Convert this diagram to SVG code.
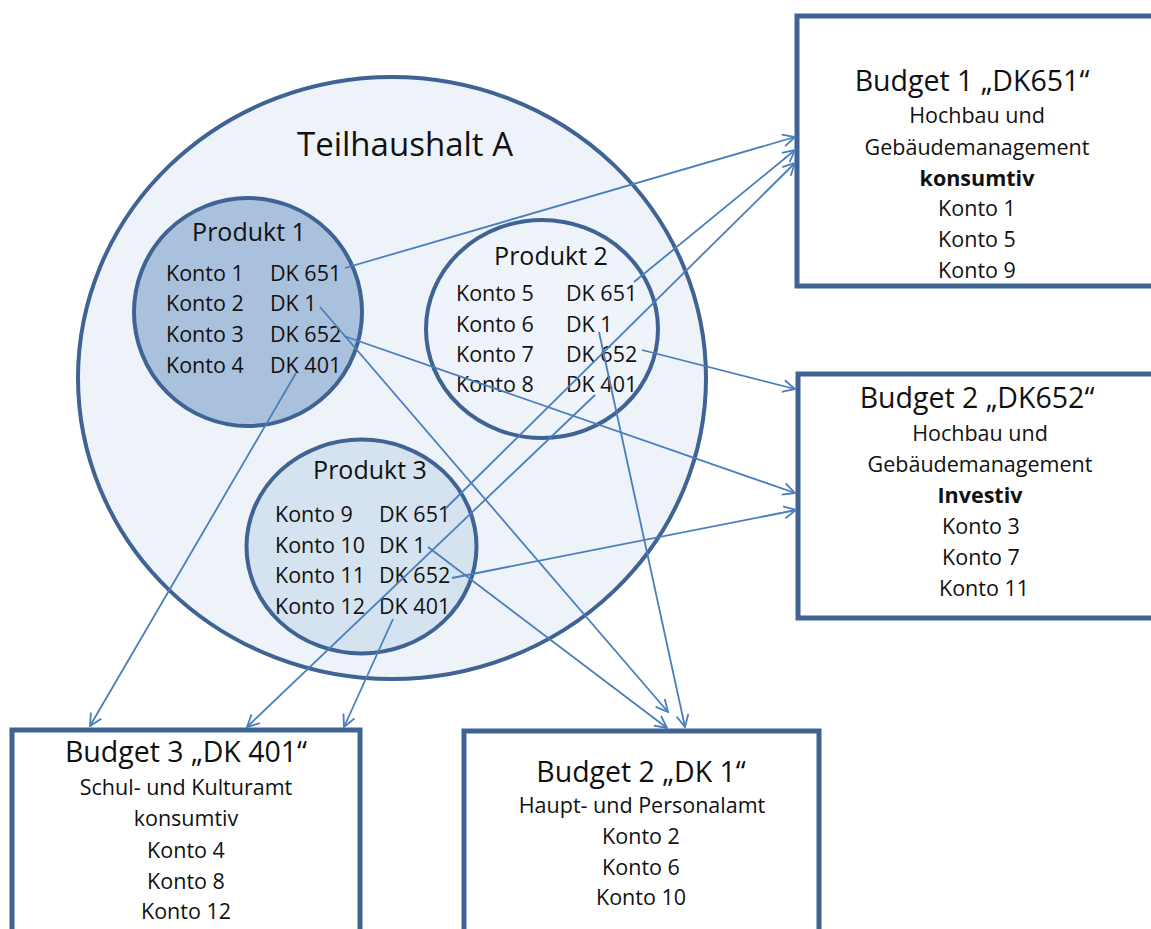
<svg xmlns="http://www.w3.org/2000/svg" width="1151" height="929" viewBox="0 0 1151 929">
<defs>
<style>
.t{font-family:"Open Sans","Liberation Sans",sans-serif;fill:#111;}
.big{font-size:33px;}
.prod{font-size:25px;}
.row{font-size:21.5px;}
.title{font-size:28.5px;text-anchor:middle;}
.sub{font-size:21.5px;text-anchor:middle;}
.b{font-weight:bold;}
.box{fill:#fff;stroke:#3f6393;stroke-width:5;}
.circ{stroke:#3f6393;stroke-width:4;}
.conn line{stroke:#4a7ebb;stroke-width:1.8;fill:none;marker-end:url(#arr);}
</style>
<marker id="arr" viewBox="0 0 14 14" refX="13" refY="7" markerWidth="14" markerHeight="14" markerUnits="userSpaceOnUse" orient="auto">
<path d="M1,1 L13,7 L1,13" fill="none" stroke="#4a7ebb" stroke-width="1.8"/>
</marker>
</defs>
<rect width="1151" height="929" fill="#fff"/>

<g id="teilhaushalt">
<ellipse class="circ" cx="392" cy="378" rx="314" ry="301" fill="#eef3f9"/>
<text class="t big" x="405" y="156" text-anchor="middle">Teilhaushalt A</text>
</g>

<g id="produkt1">
<ellipse class="circ" cx="248" cy="312" rx="114" ry="114" fill="#aac1de"/>
<text class="t prod" x="249" y="241" text-anchor="middle">Produkt 1</text>
<text class="t row" x="166" y="281">Konto 1</text><text class="t row" x="270" y="281">DK 651</text>
<text class="t row" x="166" y="311">Konto 2</text><text class="t row" x="270" y="311">DK 1</text>
<text class="t row" x="166" y="342">Konto 3</text><text class="t row" x="270" y="342">DK 652</text>
<text class="t row" x="166" y="373">Konto 4</text><text class="t row" x="270" y="373">DK 401</text>
</g>

<g id="produkt2">
<ellipse class="circ" cx="542" cy="329" rx="116" ry="109" fill="#eff4fa"/>
<text class="t prod" x="551" y="265" text-anchor="middle">Produkt 2</text>
<text class="t row" x="456" y="301">Konto 5</text><text class="t row" x="566" y="301">DK 651</text>
<text class="t row" x="456" y="332">Konto 6</text><text class="t row" x="566" y="332">DK 1</text>
<text class="t row" x="456" y="362">Konto 7</text><text class="t row" x="566" y="362">DK 652</text>
<text class="t row" x="456" y="392">Konto 8</text><text class="t row" x="566" y="392">DK 401</text>
</g>

<g id="produkt3">
<ellipse class="circ" cx="361.5" cy="546.5" rx="115" ry="107" fill="#d5e2f0"/>
<text class="t prod" x="370" y="479" text-anchor="middle">Produkt 3</text>
<text class="t row" x="275" y="522">Konto 9</text><text class="t row" x="379" y="522">DK 651</text>
<text class="t row" x="275" y="553">Konto 10</text><text class="t row" x="379" y="553">DK 1</text>
<text class="t row" x="275" y="583">Konto 11</text><text class="t row" x="379" y="583">DK 652</text>
<text class="t row" x="275" y="614">Konto 12</text><text class="t row" x="379" y="614">DK 401</text>
</g>

<g id="budget1">
<rect class="box" x="797" y="16" width="400" height="270"/>
<text class="t title" x="972" y="91">Budget 1 „DK651“</text>
<text class="t sub" x="977" y="123">Hochbau und</text>
<text class="t sub" x="977" y="155">Gebäudemanagement</text>
<text class="t sub b" x="977" y="186">konsumtiv</text>
<text class="t sub" x="977" y="216">Konto 1</text>
<text class="t sub" x="977" y="247">Konto 5</text>
<text class="t sub" x="977" y="278">Konto 9</text>
</g>

<g id="budget2-652">
<rect class="box" x="798" y="374" width="400" height="244"/>
<text class="t title" x="977" y="408">Budget 2 „DK652“</text>
<text class="t sub" x="980" y="441">Hochbau und</text>
<text class="t sub" x="980" y="472">Gebäudemanagement</text>
<text class="t sub b" x="980" y="503">Investiv</text>
<text class="t sub" x="981" y="534">Konto 3</text>
<text class="t sub" x="981" y="565">Konto 7</text>
<text class="t sub" x="984" y="596">Konto 11</text>
</g>

<g id="budget3">
<rect class="box" x="12" y="730" width="348" height="250"/>
<text class="t title" x="186" y="762">Budget 3 „DK 401“</text>
<text class="t sub" x="186" y="795">Schul- und Kulturamt</text>
<text class="t sub" x="186" y="826">konsumtiv</text>
<text class="t sub" x="186" y="858">Konto 4</text>
<text class="t sub" x="186" y="889">Konto 8</text>
<text class="t sub" x="186" y="919">Konto 12</text>
</g>

<g id="budget2-dk1">
<rect class="box" x="464" y="731" width="355" height="250"/>
<text class="t title" x="641" y="782">Budget 2 „DK 1“</text>
<text class="t sub" x="642" y="813">Haupt- und Personalamt</text>
<text class="t sub" x="641" y="844">Konto 2</text>
<text class="t sub" x="641" y="875">Konto 6</text>
<text class="t sub" x="641" y="905">Konto 10</text>
</g>

<g id="connectors" class="conn">
<line x1="345" y1="268" x2="795" y2="137"/>
<line x1="634" y1="282" x2="795" y2="150"/>
<line x1="445" y1="509" x2="795" y2="163"/>
<line x1="344" y1="336" x2="795" y2="493"/>
<line x1="642" y1="350" x2="795" y2="389"/>
<line x1="452" y1="578" x2="796" y2="510"/>
<line x1="320" y1="307" x2="668" y2="712"/>
<line x1="599" y1="332" x2="685" y2="727"/>
<line x1="428" y1="547" x2="667" y2="728"/>
<line x1="296" y1="373" x2="90" y2="726"/>
<line x1="595" y1="395" x2="247" y2="727"/>
<line x1="393" y1="619" x2="344" y2="727"/>
</g>
</svg>
